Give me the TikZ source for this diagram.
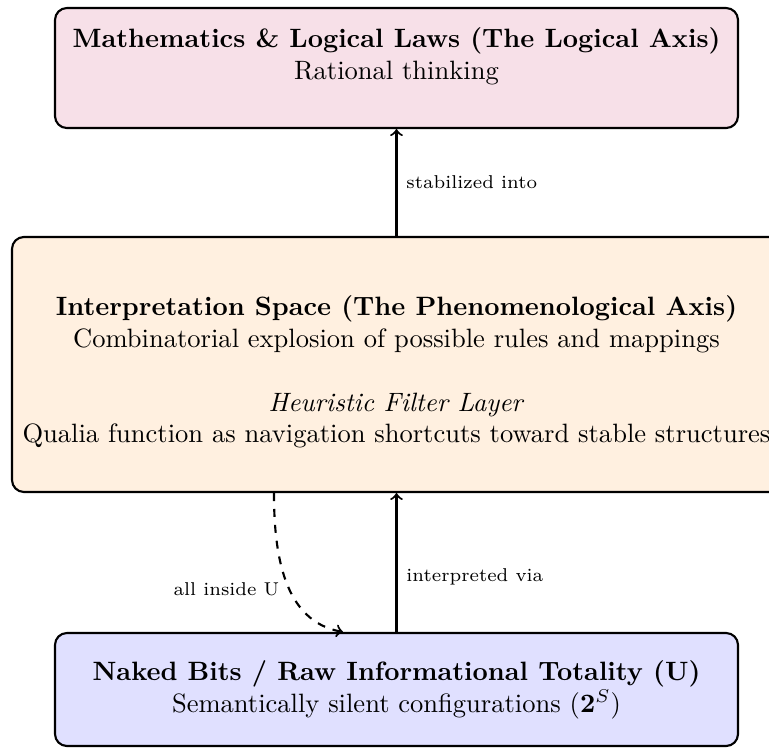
\documentclass[tikz,border=0pt]{standalone}
\usepackage{tikz}

\begin{document}
\begin{tikzpicture}[
    box/.style={draw, thick, rounded corners=4.5pt, minimum width=9.047cm},
    arr/.style={->, thick},
    lab/.style={font=\scriptsize}
]
    % Page size (the middle box runs past the right edge)
    \useasboundingbox (0,0) rectangle (10.186,-9.948);

    % Top box: the logical axis
    \node[box, fill=purple!12, minimum height=1.59cm] (logic) at (5.252,-0.901) {};
    \node[align=center] (logictext) at (5.252,-0.742)
        {\textbf{Mathematics \& Logical Laws (The Logical Axis)}\\ Rational thinking};

    % Middle box: the phenomenological axis
    \node[box, fill=orange!12, minimum width=10.186cm, minimum height=3.378cm] (interp) at (5.252,-4.828) {};
    \node[align=center] (interptext) at (5.252,-4.928)
        {\textbf{Interpretation Space (The Phenomenological Axis)}\\
         Combinatorial explosion of possible rules and mappings\\[\baselineskip]
         \textit{Heuristic Filter Layer}\\
         Qualia function as navigation shortcuts toward stable structures};

    % Bottom box: raw bits
    \node[box, fill=blue!12, minimum height=1.497cm] (bits) at (5.252,-9.133) {};
    \node[align=center] (bitstext) at (5.252,-9.14)
        {\textbf{Naked Bits / Raw Informational Totality (U)}\\ Semantically silent configurations ($\mathbf{2}^{S}$)};

    % Arrows between the layers
    \draw[arr] (bits.north) -- node[lab, right, pos=0.4] {interpreted via} (interp.south);
    \draw[arr] (interp.north) -- node[lab, right] {stabilized into} (logic.south);

    % Dashed link back down
    \draw[arr, dashed] ([xshift=-1.623cm]interp.south) to[out=-90, in=170]
        node[lab, left, pos=0.55] {all inside U} ([xshift=-0.709cm]bits.north);
\end{tikzpicture}
\end{document}
